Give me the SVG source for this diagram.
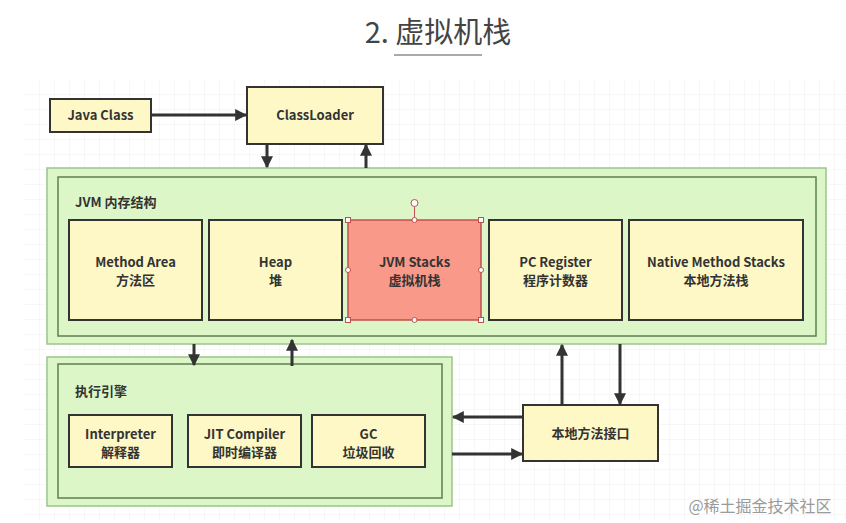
<svg xmlns="http://www.w3.org/2000/svg" width="846" height="523" viewBox="0 0 846 523">
<defs>
<pattern id="grid" width="15" height="15" patternUnits="userSpaceOnUse" x="25" y="80">
<path d="M15 0V15M0 15H15" fill="none" stroke="#eeeeee" stroke-width="1"/>
</pattern>
<marker id="ah" viewBox="0 0 10 10" refX="9" refY="5" markerWidth="4" markerHeight="4" orient="auto" markerUnits="strokeWidth">
<path d="M0 0L10 5L0 10z" fill="#333"/>
</marker>
</defs>
<style>
text{font-family:"Noto Sans CJK SC","Noto Sans",sans-serif;font-weight:bold;font-size:13px;fill:#333;text-anchor:middle}
.y{fill:#fdf8c6;stroke:#333;stroke-width:2}
.go{fill:#dcf6c8;stroke:#98c589;stroke-width:1.5}
.gi{fill:#dcf6c8;stroke:#5f7f50;stroke-width:1.5}
.c{stroke:#333;stroke-width:3;fill:none;marker-end:url(#ah)}
.h{fill:#fff;stroke:#c0504d;stroke-width:1}
.lbl{text-anchor:start}
</style>
<rect width="846" height="523" fill="#fff"/>
<rect x="25" y="80" width="821" height="440" fill="url(#grid)"/>
<g id="title">
<text x="438" y="43" style="font-weight:normal;font-size:29px;fill:#444">2. 虚拟机栈</text>
<line x1="394" y1="55" x2="482" y2="55" stroke="#555" stroke-width="1"/>
</g>
<g id="watermark">
<text x="760" y="512" style="font-family:'Noto Sans CJK SC',serif;font-weight:normal;font-size:16px;fill:#9a9a9a">@稀土掘金技术社区</text>
</g>
<g id="java-class"><rect class="y" x="50" y="99" width="101" height="33"/><text x="100.5" y="120">Java Class</text></g>
<g id="classloader"><rect class="y" x="247" y="87" width="136" height="57"/><text x="315" y="120">ClassLoader</text></g>
<g id="jvm-memory">
<rect class="go" x="47" y="168" width="779" height="176"/>
<rect class="gi" x="58" y="177" width="758" height="159"/>
<text class="lbl" x="75" y="207">JVM 内存结构</text>
</g>
<g id="method-area"><rect class="y" x="69" y="220" width="133" height="100"/><text x="135.5" y="267">Method Area</text><text x="135.5" y="285">方法区</text></g>
<g id="heap"><rect class="y" x="209" y="220" width="133" height="100"/><text x="275.5" y="267">Heap</text><text x="275.5" y="285">堆</text></g>
<g id="jvm-stacks">
<rect x="348" y="220" width="133" height="100" fill="#f8998a" stroke="#c0504d" stroke-width="1.5"/>
<text x="414.5" y="267">JVM Stacks</text><text x="414.5" y="285">虚拟机栈</text>
<line x1="414.5" y1="207" x2="414.5" y2="220" stroke="#c0504d" stroke-width="1"/>
<circle class="h" cx="414.5" cy="203" r="3.5"/>
<rect class="h" x="345.5" y="217.5" width="5" height="5"/><rect class="h" x="478.5" y="217.5" width="5" height="5"/>
<rect class="h" x="345.5" y="317.5" width="5" height="5"/><rect class="h" x="478.5" y="317.5" width="5" height="5"/>
<circle class="h" cx="414.5" cy="220" r="2.5"/><circle class="h" cx="414.5" cy="320" r="2.5"/>
<circle class="h" cx="348" cy="270" r="2.5"/><circle class="h" cx="481" cy="270" r="2.5"/>
</g>
<g id="pc-register"><rect class="y" x="489" y="220" width="133" height="100"/><text x="555.5" y="267">PC Register</text><text x="555.5" y="285">程序计数器</text></g>
<g id="native-method-stacks"><rect class="y" x="629" y="220" width="174" height="100"/><text x="716" y="267">Native Method Stacks</text><text x="716" y="285">本地方法栈</text></g>
<g id="execution-engine">
<rect class="go" x="47" y="357" width="405" height="149"/>
<rect class="gi" x="58" y="364" width="384" height="134"/>
<text class="lbl" x="75" y="396">执行引擎</text>
</g>
<g id="interpreter"><rect class="y" x="69" y="415" width="103" height="52"/><text x="120.5" y="439">Interpreter</text><text x="120.5" y="457">解释器</text></g>
<g id="jit-compiler"><rect class="y" x="188" y="415" width="113" height="52"/><text x="244.5" y="439">JIT Compiler</text><text x="244.5" y="457">即时编译器</text></g>
<g id="gc"><rect class="y" x="312" y="415" width="113" height="52"/><text x="368.5" y="439">GC</text><text x="368.5" y="457">垃圾回收</text></g>
<g id="native-interface"><rect class="y" x="523" y="405" width="135" height="56"/><text x="590.5" y="438">本地方法接口</text></g>
<g id="connectors">
<line class="c" x1="151" y1="115" x2="246" y2="115"/>
<line class="c" x1="267" y1="144" x2="267" y2="167"/>
<line class="c" x1="366" y1="168" x2="366" y2="145"/>
<line class="c" x1="194" y1="344" x2="194" y2="365"/>
<line class="c" x1="292" y1="366" x2="292" y2="340"/>
<line class="c" x1="562" y1="405" x2="562" y2="345"/>
<line class="c" x1="620" y1="344" x2="620" y2="404"/>
<line class="c" x1="523" y1="417" x2="453" y2="417"/>
<line class="c" x1="452" y1="454" x2="522" y2="454"/>
</g>
</svg>
